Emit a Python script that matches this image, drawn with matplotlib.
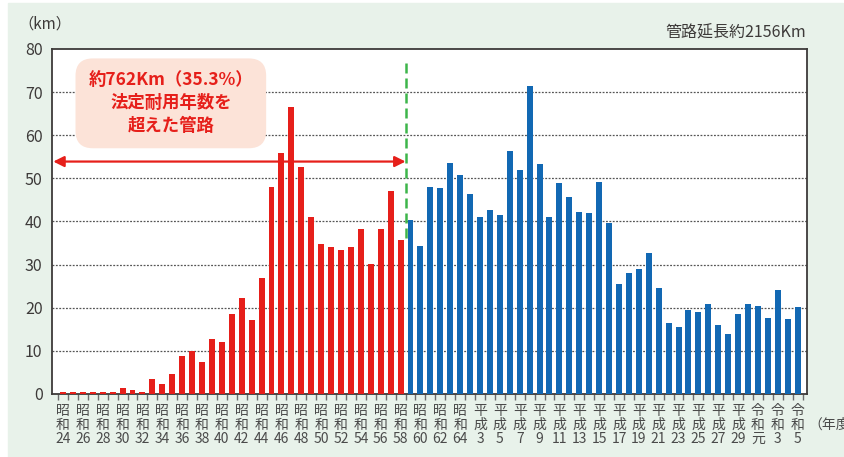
import matplotlib
matplotlib.use("Agg")
import matplotlib.pyplot as plt
from matplotlib.patches import Rectangle

plt.rcParams['font.family'] = ['Noto Sans CJK JP', 'DejaVu Sans']

# -- Pipe length laid per fiscal year (km), 昭和24 .. 令和5
years = (["昭和%d" % y for y in range(24, 65)]
         + ["平成%d" % y for y in range(2, 31)]
         + ["令和元", "令和2", "令和3", "令和4", "令和5"])

# -- 昭和24 .. 昭和58 : past legal service life
old_km = [0.4, 0.4, 0.4, 0.4, 0.4, 0.4, 1.3, 0.9, 0.4, 3.5,
          2.3, 4.6, 8.8, 10.0, 7.4, 12.8, 12.1, 18.6, 22.3, 17.2,
          26.9, 48.0, 55.9, 66.6, 52.7, 41.1, 34.8, 34.1, 33.4, 34.1,
          38.3, 30.2, 38.3, 47.1, 35.8]

# -- 昭和59 .. 令和5
new_km = [40.4, 34.3, 48.0, 47.8, 53.6, 50.8, 46.4, 41.1, 42.7, 41.5,
          56.4, 52.0, 71.5, 53.4, 41.1, 49.0, 45.7, 42.2, 42.0, 49.2,
          39.7, 25.5, 28.1, 29.0, 32.7, 24.6, 16.5, 15.5, 19.5, 19.0,
          20.9, 16.0, 13.9, 18.6, 20.9, 20.4, 17.6, 24.1, 17.4, 20.2]

RED = '#E61F1A'
BLUE = '#1268B3'
TEXT = '#3d3a39'

fig = plt.figure(figsize=(8.45, 4.57), dpi=100)
fig.patch.set_facecolor('white')
fig.patches.append(Rectangle((8 / 845, 0), 835 / 845, 454 / 457,
                             transform=fig.transFigure, color='#E8F2EA', zorder=-10))

ax = fig.add_axes([52.3 / 845, 63 / 457, 754.4 / 845, 345 / 457])
ax.set_facecolor('white')

n_old = len(old_km)
x_old = list(range(n_old))
x_new = list(range(n_old, n_old + len(new_km)))
ax.bar(x_old, old_km, width=0.6, color=RED, zorder=3)
ax.bar(x_new, new_km, width=0.6, color=BLUE, zorder=3)

ax.set_xlim(-1.08, 74.91)
ax.set_ylim(0, 80)
ax.set_yticks(range(0, 90, 10))
ax.tick_params(axis='y', length=0, pad=7, labelsize=11.5, labelcolor=TEXT)

# -- horizontal dotted grid
for v in range(10, 80, 10):
    ax.axhline(v, color='#555555', lw=0.9, ls=(0, (1.5, 1.2)), zorder=1)

for s in ax.spines.values():
    s.set_color(TEXT)
    s.set_linewidth(1.3)

# -- x ticks: small marks at bar boundaries, labels under every other bar
ax.set_xticks([i - 0.5 for i in range(len(years) + 1)], minor=True)
ax.tick_params(axis='x', which='minor', length=4, width=1, color='#6d6d6d')
lab_pos = list(range(0, len(years), 2))
lab_txt = ["\n".join([y[0], y[1], y[2:]]) for y in (years[i] for i in lab_pos)]
ax.set_xticks(lab_pos)
ax.set_xticklabels(lab_txt, linespacing=1.0)
ax.tick_params(axis='x', which='major', length=0, pad=7, labelsize=10, labelcolor='#4a4a4a')

# -- boundary of legal service life
ax.plot([n_old - 0.5, n_old - 0.5], [36.2, 77.5], color='#3DB54A', lw=1.8,
        ls=(0, (4, 2)), zorder=4)
ax.annotate('', xy=(-0.98, 53.9), xytext=(n_old - 0.5, 53.9),
            arrowprops=dict(arrowstyle='<|-|>', color=RED, lw=1.6,
                            mutation_scale=16, shrinkA=0, shrinkB=0), zorder=5)

ax.text(10.86, 67.4, "約762Km（35.3%）\n法定耐用年数を\n超えた管路",
        ha='center', va='center', color=RED, fontsize=12.5, fontweight='bold',
        linespacing=1.35, zorder=6,
        bbox=dict(boxstyle='round,pad=0.75,rounding_size=1.0', fc='#FCE3D8', ec='none'))

fig.text(18 / 845, 1 - 24 / 457, "（km）", ha='left', va='center', fontsize=11, color=TEXT)
fig.text(806 / 845, 1 - 33 / 457, "管路延長約2156Km", ha='right', va='center',
         fontsize=11.5, color=TEXT)
fig.text(808 / 845, 1 - 425 / 457, "（年度）", ha='left', va='center', fontsize=10,
         color='#4a4a4a')

fig.savefig('out.png', dpi=100, facecolor=fig.get_facecolor())
